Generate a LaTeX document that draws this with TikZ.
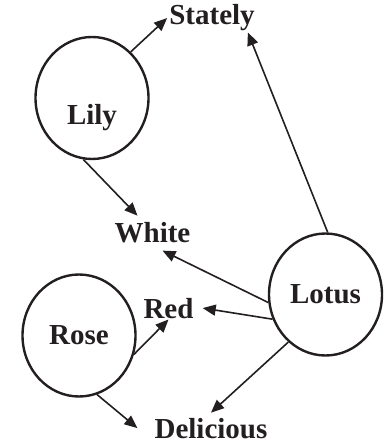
\documentclass[tikz,border=0pt]{standalone}
\usepackage{fontspec}
\setmainfont{Liberation Serif}
\usetikzlibrary{arrows.meta,shapes.geometric}
\definecolor{ink}{HTML}{231F20}
\begin{document}
\begin{tikzpicture}[x=1pt,y=-1pt,
  bigfont/.style={font=\fontsize{29}{30}\selectfont\bfseries},
  flower/.style={draw=ink, line width=2.4pt, ellipse, minimum width=113pt,
    minimum height=122pt, inner sep=0pt, bigfont, text=ink},
  word/.style={inner sep=0pt, bigfont, text=ink, anchor=base},
  link/.style={draw=ink, line width=1.6pt, -{Triangle[length=13pt,width=11pt]}}]
\useasboundingbox (0,0) rectangle (383,443);

% the three flowers
\node[flower, label={[bigfont, text=ink, yshift=-20pt]center:Lily}] (lily) at (92,98) {};
\node[flower] (rose) at (79,335.5) {Rose};
\node[flower] (lotus) at (325.5,294.5) {Lotus};

% their qualities
\node[word] (stately) at (212,25) {Stately};
\node[word] (white) at (152.5,242) {White};
\node[word] (red) at (168.5,318) {Red};
\node[word] (delicious) at (211,438) {Delicious};

% connections
\draw[link] (lily.50) -- ([xshift=-2pt]stately.west);
\draw[link] (lily.262) -- ([xshift=-15pt,yshift=6pt]white.north);
\draw[link] (lotus.88) -- ([xshift=-7pt,yshift=-1pt]stately.south east);
\draw[link] (lotus.188) -- ([xshift=10pt,yshift=-8pt]white.south);
\draw[link] (lotus.205) -- ([xshift=9pt]red.east);
\draw[link] (lotus.232) -- ([yshift=5pt]delicious.north);
\draw[link] (rose.-19) -- ([yshift=-1pt]red.south);
\draw[link] (rose.-73) -- ([xshift=-17pt]delicious.west);
\end{tikzpicture}
\end{document}
